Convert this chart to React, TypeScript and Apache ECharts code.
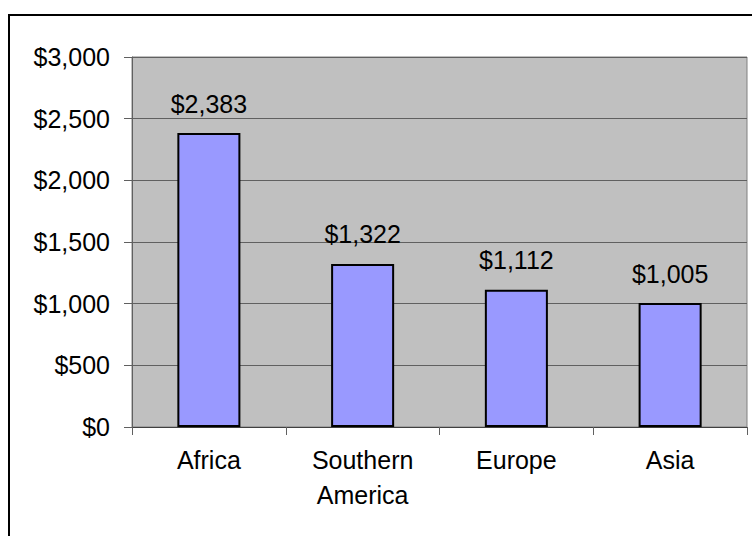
import React, { useEffect, useRef } from "react";
import * as echarts from "echarts";

const categories = ["Africa", "Southern\nAmerica", "Europe", "Asia"];
const values = [2383, 1322, 1112, 1005];
const yMin = 0;
const yMax = 3000;
const yInterval = 500;

const FONT = "'Liberation Sans', Arial, sans-serif";
const money = (v: number) => "$" + v.toLocaleString("en-US");

export default function App() {
  const ref = useRef<HTMLDivElement>(null);
  useEffect(() => {
    if (!ref.current) return;
    const chart = echarts.init(ref.current, null, { renderer: "svg" });
    chart.setOption({
      animation: false,
      backgroundColor: "#ffffff",
      textStyle: { fontFamily: FONT },
      graphic: [
        {
          type: "rect",
          shape: { x: 9, y: 15, width: 800, height: 600 },
          style: { fill: "none", stroke: "#000", lineWidth: 2 },
          silent: true,
          z: 100,
        },
      ],
      grid: {
        left: 132,
        top: 57,
        right: 5,
        bottom: 109,
        show: true,
        backgroundColor: "#C0C0C0",
        borderColor: "#808080",
        borderWidth: 1,
      },
      xAxis: {
        type: "category",
        data: categories,
        boundaryGap: true,
        axisLine: { show: true, lineStyle: { color: "#404040", width: 1 } },
        axisTick: { show: true, alignWithLabel: false, length: 8, lineStyle: { color: "#606060" } },
        axisLabel: {
          color: "#000",
          fontSize: 25,
          fontFamily: FONT,
          margin: 15,
          lineHeight: 35,
          interval: 0,
        },
      },
      yAxis: {
        type: "value",
        min: yMin,
        max: yMax,
        interval: yInterval,
        axisLine: { show: true, lineStyle: { color: "#606060", width: 1 } },
        axisTick: { show: true, length: 8, lineStyle: { color: "#606060" } },
        splitLine: { show: true, lineStyle: { color: "#606060", width: 1 } },
        axisLabel: {
          color: "#000",
          fontSize: 25,
          fontFamily: FONT,
          margin: 22,
          formatter: (v: number) => money(v),
        },
      },
      series: [
        {
          type: "bar",
          data: values,
          barWidth: "41%",
          itemStyle: { color: "#9999FF", borderColor: "#000", borderWidth: 2 },
          label: {
            show: true,
            position: "top",
            distance: 17,
            color: "#000",
            fontSize: 25,
            fontFamily: FONT,
            formatter: (p: any) => money(p.value),
          },
        },
      ],
    });
    return () => chart.dispose();
  }, []);
  return (
    <div
      ref={ref}
      style={{ position: "absolute", left: 0, top: 0, width: 752, height: 536 }}
    />
  );
}
